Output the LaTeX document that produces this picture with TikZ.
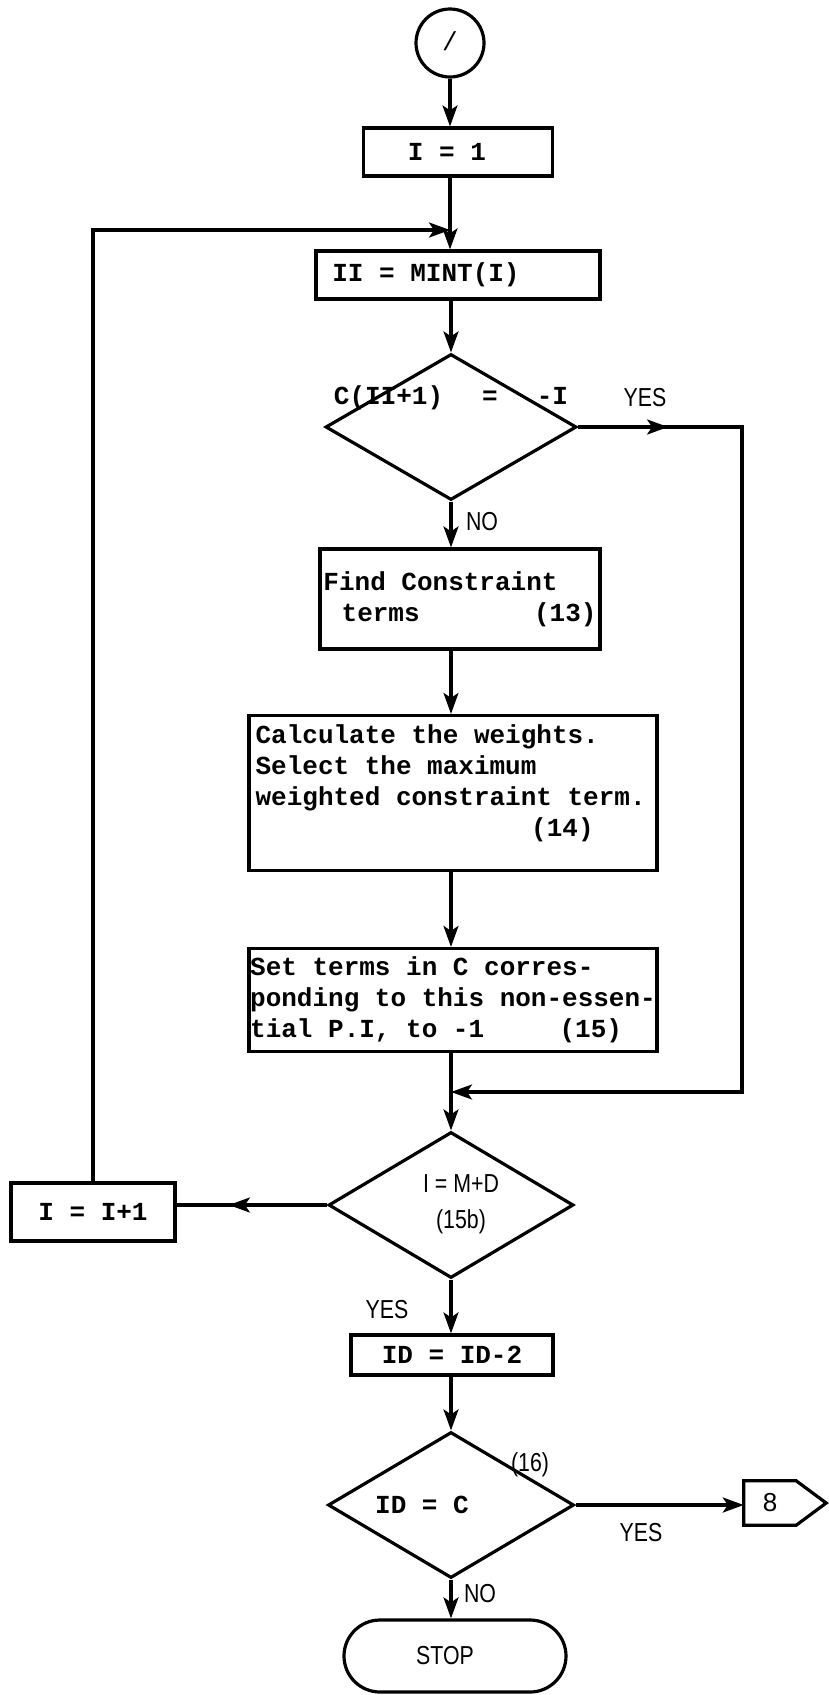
\documentclass[tikz,border=0pt]{standalone}
\usepackage{fontspec}
\setmainfont{Liberation Sans}
\newfontfamily\typer{Liberation Mono}
\usetikzlibrary{arrows.meta,shapes.geometric,decorations.markings}

% narrow sans lettering for branch labels
\newcommand\narrowtext[1]{\scalebox{0.82}[1]{#1}}

\tikzset{
  tip/.tip={Stealth[length=21pt,width=15pt,inset=5pt]},
  line/.style={line width=3.2pt, -},
  flow/.style={line width=3.2pt, -tip},
  midarrow/.style={postaction={decorate,decoration={markings,
      mark=at position #1 with {\arrow{tip}}}}},
  box/.style={draw, line width=3.2pt, inner sep=0pt, align=left,
      font=\typer\bfseries\fontsize{26}{31}\selectfont},
  dia/.style={draw, diamond, line width=3.2pt, inner sep=0pt},
  tt/.style={inner sep=0pt, align=left, font=\typer\bfseries\fontsize{26}{31}\selectfont},
  lbl/.style={inner sep=0pt, font=\fontsize{26}{36}\selectfont, align=center},
  term/.style={draw, line width=3.2pt, rounded corners=36pt, inner sep=0pt,
      font=\fontsize{26}{28}\selectfont},
}

\begin{document}
\begin{tikzpicture}[x=1pt,y=-1pt]
\useasboundingbox (0,0) rectangle (829,1695);

% connector entry and process boxes
\node[draw, circle, line width=3.2pt, minimum size=68pt, inner sep=0pt, font=\typer\fontsize{26}{31}\selectfont] (start) at (450,43) {\raisebox{4pt}{/}};
\node[box, minimum width=189pt, minimum height=48pt] (n1) at (458,152) {I = 1\hspace*{22pt}};
\node[box, minimum width=284pt, minimum height=48pt] (n2) at (458,275) {II = MINT(I)\hspace*{64pt}};

% first test
\node[dia, minimum width=251pt, minimum height=146pt] (d1) at (451,427) {};
\node[tt] (d1t) at (451,398) {C(II+1)\hspace{1.5em}=\hspace{1.5em}-I};
\node[lbl] (yes1) at (645,398) {\narrowtext{YES}};
\node[lbl] (no1) at (482,522) {\narrowtext{NO}};

\node[box, minimum width=280pt, minimum height=100pt] (n3) at (460,599)
  {Find Constraint\\\hspace*{0.7em}terms\hspace{4.4em}(13)};
\node[box, minimum width=408pt, minimum height=155pt] (n4) at (453,793) {};
\node[tt, anchor=west] (n4t) at ([xshift=8pt,yshift=10pt]n4.west)
  {Calculate the weights.\\Select the maximum\\weighted constraint term.\\\hspace*{10.6em}(14)};
\node[box, minimum width=408pt, minimum height=103pt] (n5) at (453,1000)
  {Set terms in C corres-\\\mbox{ponding to this non-essen-}\\tial P.I, to -1\hspace{2.9em}(15)};

% loop test
\node[dia, minimum width=245pt, minimum height=146pt] (d2) at (451,1205) {};
\node[lbl] (d2t) at (461,1204) {\narrowtext{I = M+D}\\\narrowtext{(15b)}};
\node[box, minimum width=164pt, minimum height=58pt] (n6) at (93,1212) {I = I+1};
\node[lbl] (yes2) at (387,1310) {\narrowtext{YES}};

\node[box, minimum width=202pt, minimum height=40pt] (n7) at (452,1355) {ID = ID-2};

% final test
\node[dia, minimum width=246pt, minimum height=146pt] (d3) at (451,1505) {};
\node[tt] (d3t) at (422,1505) {ID = C};
\node[lbl] (n16) at (530,1465) {\narrowtext{(16)}};
\node[lbl] (yes3) at (641,1533) {\narrowtext{YES}};
\node[lbl] (no3) at (480,1594) {\narrowtext{NO}};

% off-page connector
\node[inner sep=0pt, minimum width=52pt, minimum height=44pt, font=\fontsize{26}{28}\selectfont] (p8) at (770,1503) {8};
\draw[line, line join=miter] (p8.north west) -- (p8.north east) -- ([xshift=30pt]p8.east)
  -- (p8.south east) -- (p8.south west) -- cycle;

\node[term, minimum width=222pt, minimum height=72pt] (stop) at (455,1656) {\narrowtext{STOP}\hspace*{20pt}};

% junction points
\coordinate (j1) at (450,230);
\coordinate (j2) at (451,1092);
\coordinate (rx) at (742,0);

% connectors
\draw[flow] (start) -- (n1.north -| start);
\draw[flow] (n1.south -| start) -- (n2.north -| start);
\draw[flow] (n6.north) -- (n6.north |- j1) -- (j1);
\draw[flow] (n2.south -| d1) -- (d1.north);
\draw[flow] (d1.south) -- (d1.south |- n3.north);
\draw[flow, midarrow=90pt] (d1.east) -- (d1.east -| rx) -- (rx |- j2) -- (j2);
\draw[flow] (n3.south -| d1) -- (n4.north -| d1);
\draw[flow] (n4.south -| d1) -- (n5.north -| d1);
\draw[flow] (n5.south -| d1) -- (d2.north);
\draw[line, midarrow=98pt] (d2.west) -- (d2.west -| n6.east);
\draw[flow] (d2.south) -- (d2.south |- n7.north);
\draw[flow] (n7.south -| d2) -- (d3.north);
\draw[flow] (d3.south) -- (d3.south |- stop.north);
\draw[flow] (d3.east) -- (d3.east -| p8.west);
\end{tikzpicture}
\end{document}
